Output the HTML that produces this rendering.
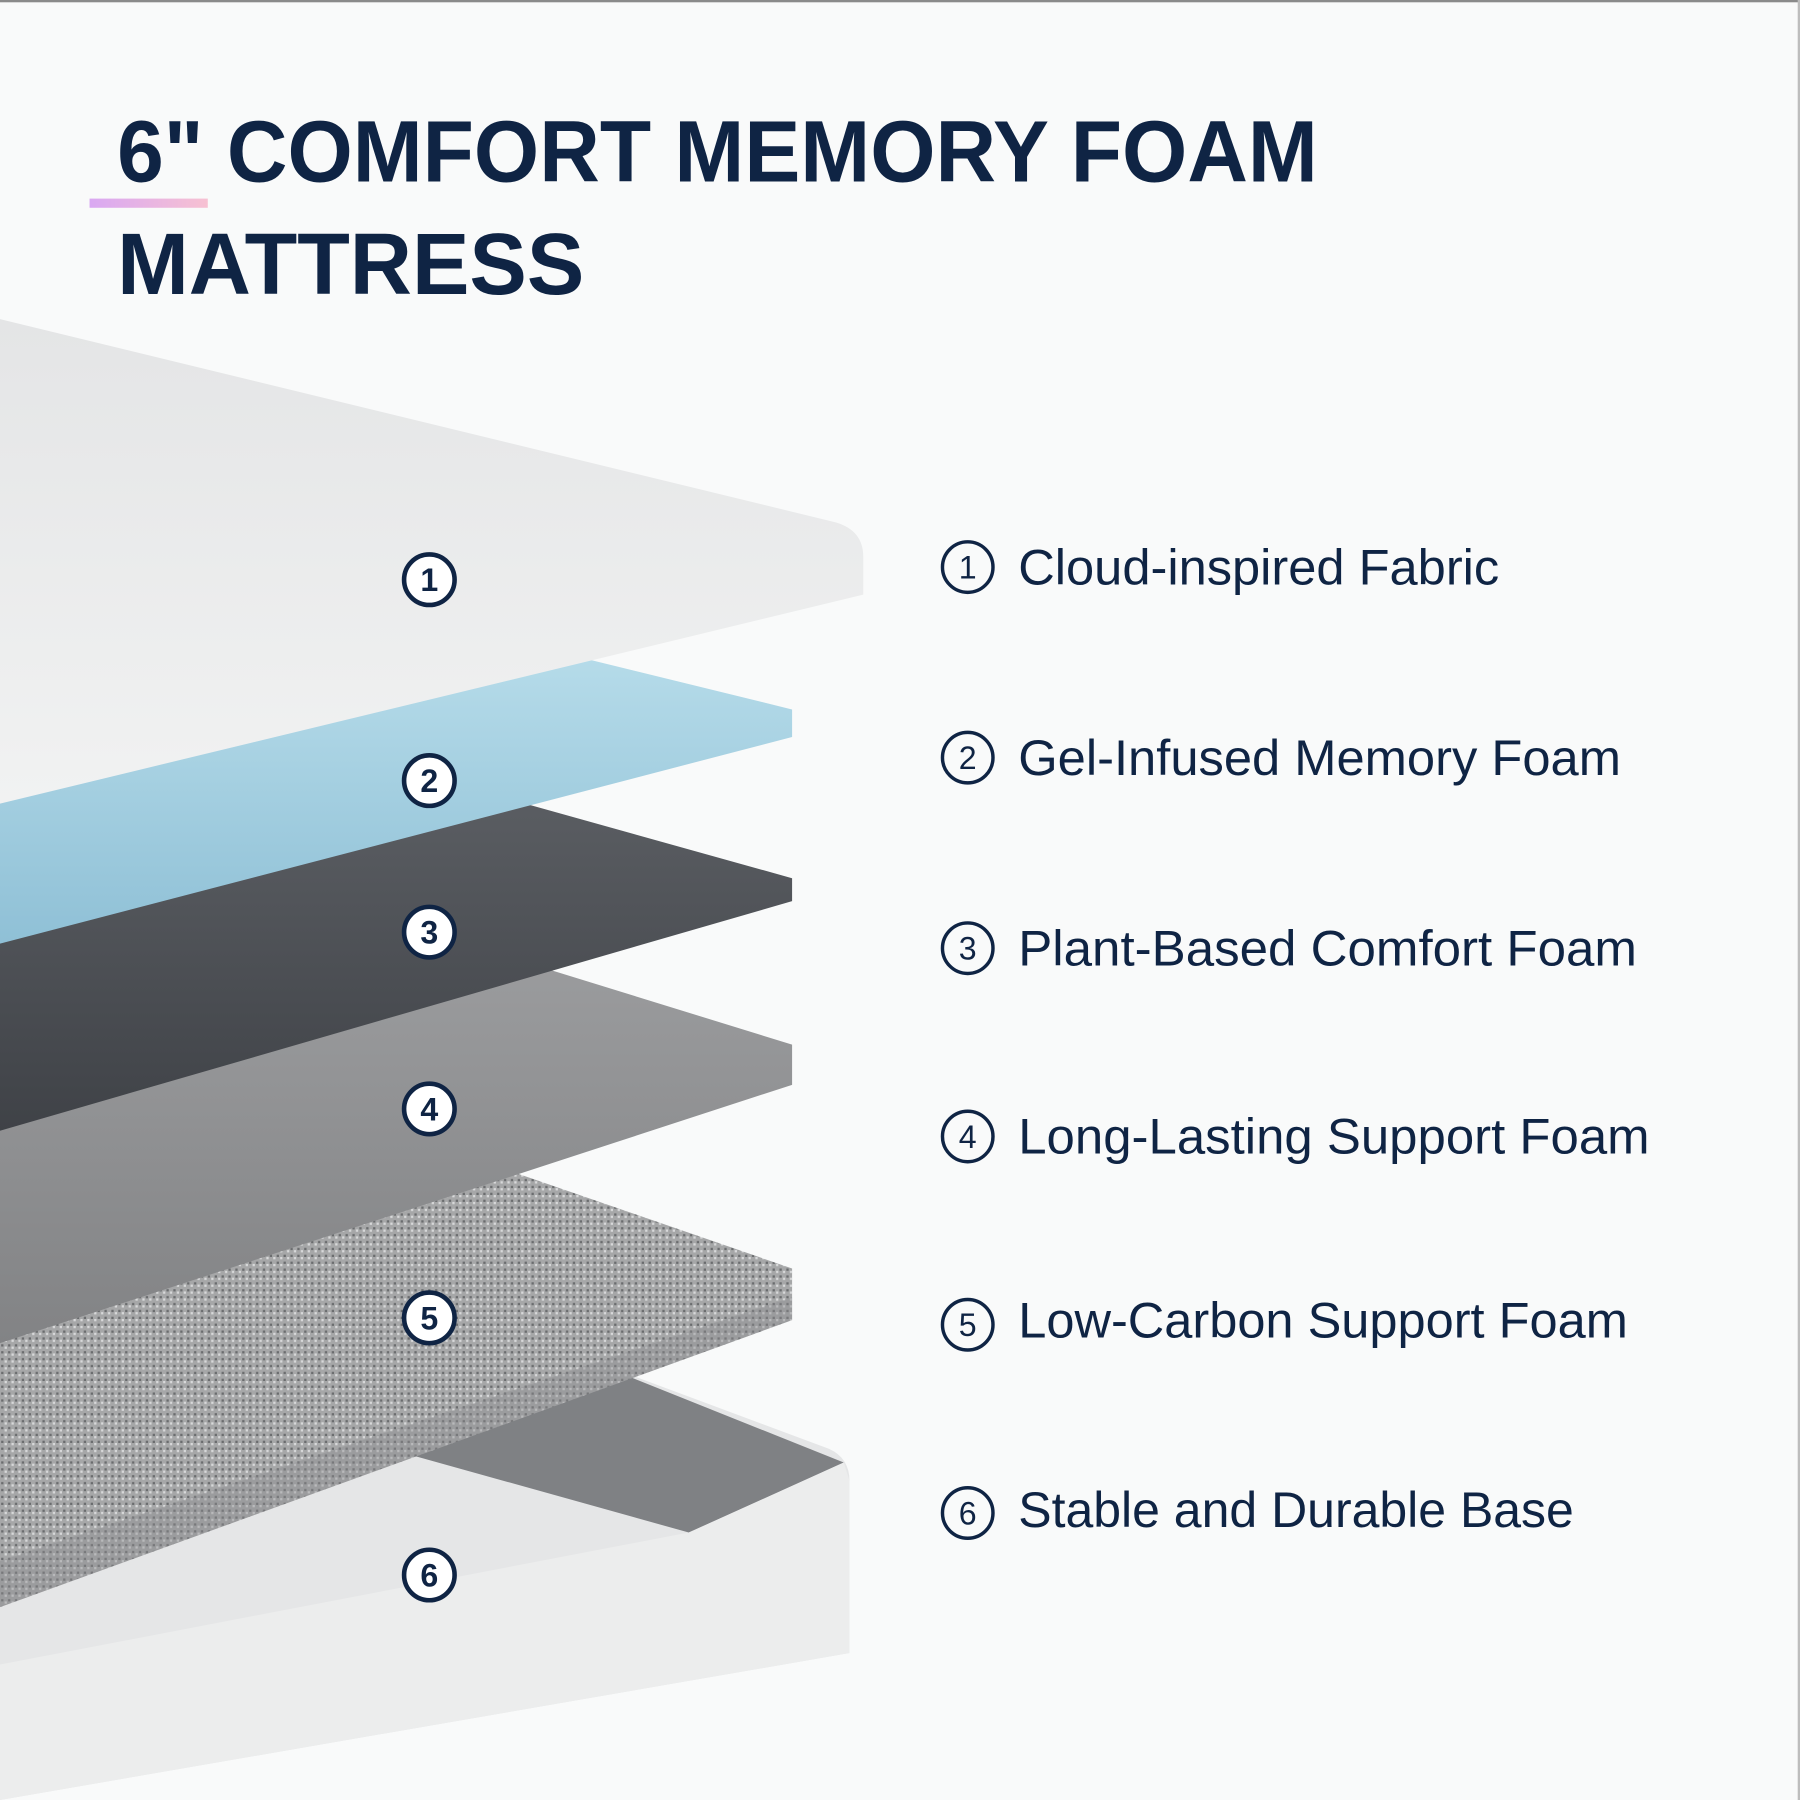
<!DOCTYPE html>
<html><head><meta charset="utf-8"><style>
html,body{margin:0;padding:0;background:#f9fafa;}
svg{display:block}
</style></head><body>
<svg width="1800" height="1800" viewBox="0 0 1568 1568" xmlns="http://www.w3.org/2000/svg">
<defs>
<linearGradient id="bar" x1="0" x2="1"><stop offset="0" stop-color="#d9a8f2"/><stop offset="1" stop-color="#f7c1d2"/></linearGradient>
<linearGradient id="l1" x1="0" y1="0" x2="0" y2="1"><stop offset="0" stop-color="#e4e5e6"/><stop offset="1" stop-color="#f1f2f2"/></linearGradient>
<linearGradient id="l2" x1="0" y1="0" x2="0" y2="1"><stop offset="0" stop-color="#b5dbe9"/><stop offset="1" stop-color="#8fc0d6"/></linearGradient>
<linearGradient id="l3" x1="0" y1="0" x2="0" y2="1"><stop offset="0" stop-color="#5a5d62"/><stop offset="1" stop-color="#3f4247"/></linearGradient>
<linearGradient id="l4" x1="0" y1="0" x2="0" y2="1"><stop offset="0" stop-color="#9a9b9d"/><stop offset="1" stop-color="#828385"/></linearGradient>
<pattern id="speck" width="6" height="6" patternUnits="userSpaceOnUse"><rect width="6" height="6" fill="#a6a7a8"/><rect x="1" y="1" width="2" height="2" fill="#6a6c6e"/><rect x="4" y="3" width="2" height="2" fill="#d8d9da"/></pattern>
</defs>
<rect x="0" y="0" width="1568" height="1568" fill="#f9fafa"/>
<rect x="0" y="0" width="1568" height="2" fill="#8a8a8a"/>
<rect x="1566" y="0" width="2" height="1568" fill="#bdbdbd"/>

<text x="102" y="158" font-family="Liberation Sans, sans-serif" font-weight="bold" font-size="76" fill="#0f2444" textLength="1046" lengthAdjust="spacingAndGlyphs">6" COMFORT MEMORY FOAM</text>
<rect x="78" y="173" width="103" height="8" fill="url(#bar)"/>
<text x="102" y="256" font-family="Liberation Sans, sans-serif" font-weight="bold" font-size="76" fill="#0f2444" textLength="407" lengthAdjust="spacingAndGlyphs">MATTRESS</text>

<!-- layer 6 base -->
<path d="M0,1395 L550,1198 L722,1262 Q740,1270 740,1290 L740,1440 L0,1568 Z" fill="#e5e6e7"/>
<path d="M360,1268 L550,1200 L735,1274 L600,1335 Z" fill="#7f8184"/>
<path d="M600,1335 L735,1274 L740,1290 L740,1440 L0,1568 L0,1450 Z" fill="#eceded"/>
<!-- layer 5 -->
<path d="M0,1160 L450,1022 L690,1105 L690,1150 L0,1400 Z" fill="url(#speck)"/>
<path d="M0,1360 L690,1130 L690,1150 L0,1400 Z" fill="#8c8d8f" opacity="0.4"/>
<!-- layer 4 -->
<path d="M0,960 L470,842 L690,910 L690,945 L0,1170 Z" fill="url(#l4)"/>
<!-- layer 3 -->
<path d="M0,800 L450,698 L690,765 L690,785 L0,985 Z" fill="url(#l3)"/>
<!-- layer 2 -->
<path d="M0,690 L515,575 L690,618 L690,642 L0,822 Z" fill="url(#l2)"/>
<!-- layer 1 -->
<path d="M0,278 L728,455 Q752,462 752,485 L752,518 L0,700 Z" fill="url(#l1)"/>

<g font-family="Liberation Sans, sans-serif" font-size="28" font-weight="bold" fill="#0f2444" text-anchor="middle">
<g fill="#fff" stroke="#0f2444" stroke-width="4">
<circle cx="374" cy="505" r="22"/><circle cx="374" cy="680" r="22"/><circle cx="374" cy="812" r="22"/>
<circle cx="374" cy="966" r="22"/><circle cx="374" cy="1148" r="22"/><circle cx="374" cy="1372" r="22"/>
</g>
<text x="374" y="515">1</text><text x="374" y="690">2</text><text x="374" y="822">3</text>
<text x="374" y="976">4</text><text x="374" y="1158">5</text><text x="374" y="1382">6</text>
</g>

<g font-family="Liberation Sans, sans-serif" fill="#0f2444">
<g fill="none" stroke="#0f2444" stroke-width="3">
<circle cx="843" cy="494" r="22"/><circle cx="843" cy="660" r="22"/><circle cx="843" cy="826" r="22"/>
<circle cx="843" cy="990" r="22"/><circle cx="843" cy="1154" r="22"/><circle cx="843" cy="1318" r="22"/>
</g>
<g font-size="28" text-anchor="middle">
<text x="843" y="504">1</text><text x="843" y="670">2</text><text x="843" y="836">3</text>
<text x="843" y="1000">4</text><text x="843" y="1164">5</text><text x="843" y="1328">6</text>
</g>
<g font-size="44">
<text x="887" y="509" textLength="419" lengthAdjust="spacingAndGlyphs">Cloud-inspired Fabric</text>
<text x="887" y="675" textLength="525" lengthAdjust="spacingAndGlyphs">Gel-Infused Memory Foam</text>
<text x="887" y="841" textLength="539" lengthAdjust="spacingAndGlyphs">Plant-Based Comfort Foam</text>
<text x="887" y="1005" textLength="550" lengthAdjust="spacingAndGlyphs">Long-Lasting Support Foam</text>
<text x="887" y="1165" textLength="531" lengthAdjust="spacingAndGlyphs">Low-Carbon Support Foam</text>
<text x="887" y="1330" textLength="484" lengthAdjust="spacingAndGlyphs">Stable and Durable Base</text>
</g>
</g>
</svg>
</body></html>
